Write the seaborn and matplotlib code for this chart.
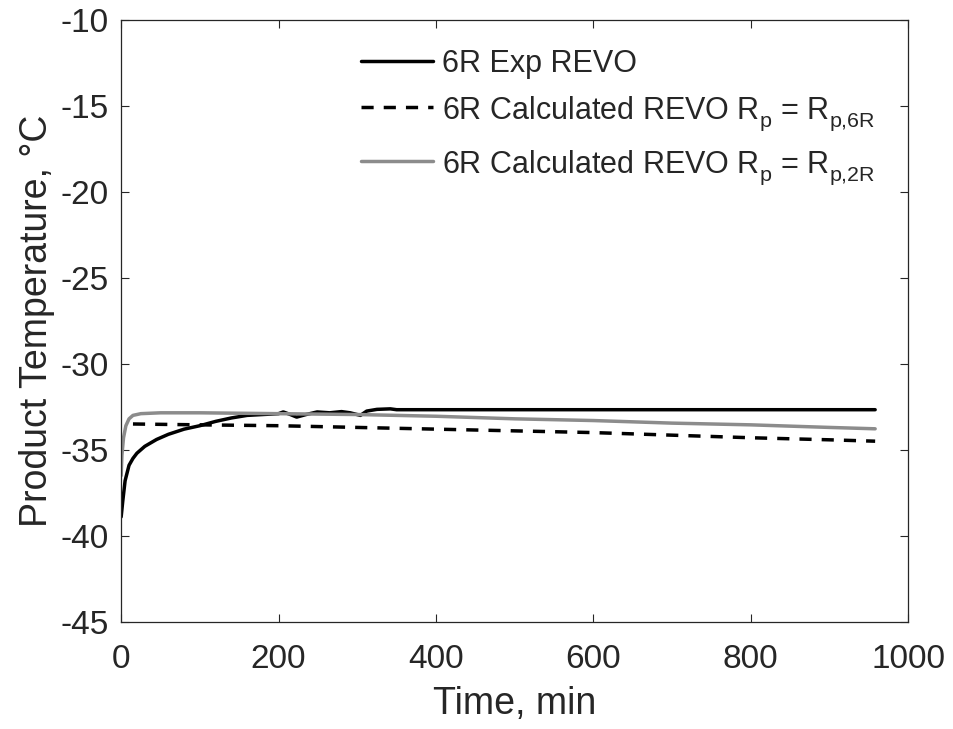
import matplotlib
matplotlib.use("Agg")
import matplotlib.pyplot as plt
import seaborn as sns
import pandas as pd

try:
    from matplotlib import _mathtext
    _mathtext.FontConstantsBase.sub1 = 0.5
except Exception:
    pass

# ---- data ----
exp_t = [0, 2, 5, 10, 15, 20, 30, 45, 60, 80, 100, 120, 140, 160, 180, 200, 206, 215, 223, 235,
         249, 265, 280, 291, 304, 312, 325, 342, 350, 400, 500, 600, 700, 800, 900, 958]
exp_T = [-38.9, -38.0, -36.8, -35.9, -35.5, -35.2, -34.8, -34.4, -34.1, -33.8, -33.6, -33.35,
         -33.15, -33.0, -32.95, -32.9, -32.8, -32.95, -33.1, -32.95, -32.8, -32.85, -32.78,
         -32.85, -33.0, -32.75, -32.65, -32.62, -32.67, -32.67, -32.67, -32.67, -32.67, -32.67,
         -32.67, -32.67]

calc6_t = [15, 100, 200, 300, 400, 500, 600, 700, 800, 900, 958]
calc6_T = [-33.5, -33.55, -33.6, -33.7, -33.8, -33.9, -34.0, -34.15, -34.3, -34.42, -34.5]

calc2_t = [0, 1, 3, 6, 10, 15, 25, 50, 100, 200, 300, 400, 500, 600, 700, 800, 900, 958]
calc2_T = [-36.5, -35.3, -34.3, -33.6, -33.2, -33.0, -32.9, -32.85, -32.85, -32.9, -32.95,
           -33.05, -33.2, -33.3, -33.45, -33.55, -33.7, -33.78]

labels = ["6R Exp REVO",
          r"6R Calculated REVO R$_\mathregular{p}$ = R$_\mathregular{p{,}6R}$",
          r"6R Calculated REVO R$_\mathregular{p}$ = R$_\mathregular{p{,}2R}$"]
x_ticks = [0, 200, 400, 600, 800, 1000]
y_ticks = [-45, -40, -35, -30, -25, -20, -15, -10]

# ---- styling ----
sns.set_style("white")
plt.rcParams["font.family"] = ["Liberation Sans", "DejaVu Sans"]
plt.rcParams["mathtext.fontset"] = "custom"
plt.rcParams["mathtext.rm"] = "Liberation Sans"
plt.rcParams["mathtext.it"] = "Liberation Sans"
plt.rcParams["mathtext.default"] = "regular"

fig = plt.figure(figsize=(9.54, 7.29), dpi=100)
ax = fig.add_axes([0.127, 0.147, 0.825, 0.826])

df_exp = pd.DataFrame({"t": exp_t, "T": exp_T})
df_c6 = pd.DataFrame({"t": calc6_t, "T": calc6_T})
df_c2 = pd.DataFrame({"t": calc2_t, "T": calc2_T})

sns.lineplot(data=df_exp, x="t", y="T", ax=ax, color="black", linewidth=2.5, label=labels[0])
sns.lineplot(data=df_c6, x="t", y="T", ax=ax, color="black", linewidth=2.5,
             linestyle=(0, (3.5, 2.9)), label=labels[1])
sns.lineplot(data=df_c2, x="t", y="T", ax=ax, color="#8c8c8c", linewidth=2.5, label=labels[2])

ax.set_xlim(0, 1000)
ax.set_ylim(-45, -10)
ax.set_xticks(x_ticks)
ax.set_yticks(y_ticks)
ax.set_xticklabels([str(v) for v in x_ticks])
ax.set_yticklabels([str(v) for v in y_ticks])
ax.tick_params(direction="in", length=6, width=0.8, labelsize=24, colors="#262626",
               top=True, right=True, bottom=True, left=True)
ax.tick_params(axis="x", pad=16)
ax.tick_params(axis="y", pad=9)
for s in ax.spines.values():
    s.set_color("#262626")
    s.set_linewidth(0.9)
ax.set_xlabel("Time, min", fontsize=27, color="#262626", labelpad=8)
ax.set_ylabel("Product Temperature, \u00b0C", fontsize=27, color="#262626", labelpad=4)

leg = ax.legend(loc="upper left", bbox_to_anchor=(0.289, 0.972), frameon=False, fontsize=22,
                handlelength=2.35, handletextpad=0.3, labelspacing=0.5, borderaxespad=0)
for t in leg.get_texts():
    t.set_color("#262626")

fig.savefig("out.png", dpi=100)
